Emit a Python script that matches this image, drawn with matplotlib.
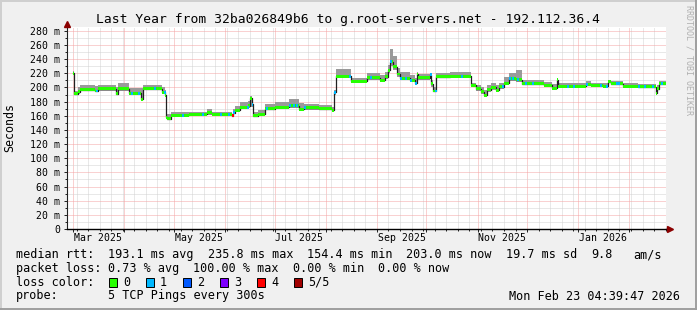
import matplotlib
matplotlib.use('Agg')
import matplotlib.pyplot as plt
import matplotlib.dates as mdates
import matplotlib.transforms as mtransforms
from matplotlib.patches import Rectangle
from matplotlib.lines import Line2D
from matplotlib.ticker import MultipleLocator, FuncFormatter
import numpy as np
import pandas as pd

plt.rcParams['font.family'] = ['DejaVu Sans Mono']

# ---------------- data ----------------
title = "Last Year from 32ba026849b6 to g.root-servers.net - 192.112.36.4"

seg_start = [
    "2025-03-01 00:00", "2025-03-01 14:00", "2025-03-04", "2025-03-05", "2025-03-14",
    "2025-03-16", "2025-03-27", "2025-03-28", "2025-04-04", "2025-04-11",
    "2025-04-12", "2025-04-24", "2025-04-25 12:00", "2025-04-26", "2025-04-27",
    "2025-04-29", "2025-05-10", "2025-05-21", "2025-05-24", "2025-06-05",
    "2025-06-06", "2025-06-07", "2025-06-10", "2025-06-15", "2025-06-16",
    "2025-06-17", "2025-06-18", "2025-06-21", "2025-06-25", "2025-07-01",
    "2025-07-10", "2025-07-16", "2025-07-19", "2025-07-28", "2025-08-05",
    "2025-08-06", "2025-08-07", "2025-08-16", "2025-08-26", "2025-09-03",
    "2025-09-06", "2025-09-08", "2025-09-09", "2025-09-11", "2025-09-13",
    "2025-09-15", "2025-09-21", "2025-09-24", "2025-09-25", "2025-09-26",
    "2025-10-03", "2025-10-04", "2025-10-05", "2025-10-07", "2025-10-15",
    "2025-10-28", "2025-10-31", "2025-11-03", "2025-11-05", "2025-11-07",
    "2025-11-09", "2025-11-12", "2025-11-14", "2025-11-17", "2025-11-20",
    "2025-11-24", "2025-11-28", "2025-12-11", "2025-12-16", "2025-12-19",
    "2025-12-20", "2026-01-06", "2026-01-09", "2026-01-16", "2026-01-19",
    "2026-01-21", "2026-01-28", "2026-02-06", "2026-02-17", "2026-02-18",
    "2026-02-19",
]
median_ms = [
    220, 191, 194, 197, 195,
    198, 191, 198, 192, 183,
    198, 193, 189, 158, 156,
    161, 162, 164, 162, 160,
    164, 168, 172, 174, 185,
    176, 160, 162, 170, 172,
    174, 169, 171, 170, 168,
    193, 216, 209, 214, 210,
    215, 224, 236, 229, 219,
    213, 210, 206, 219, 214,
    218, 205, 195, 215, 216,
    203, 198, 194, 189, 197,
    200, 196, 201, 206, 212,
    211, 205, 203, 199, 211,
    202, 204, 203, 202, 208,
    205, 202, 201, 192, 198,
    205,
]
smoke_lo_ms = [
    217, 189, 191, 195, 193,
    195, 189, 195, 190, 181,
    196, 191, 187, 156, 154,
    159, 160, 161, 160, 159,
    162, 166, 169, 171, 172,
    172, 158, 160, 168, 169,
    171, 167, 168, 168, 166,
    190, 213, 207, 211, 208,
    212, 220, 230, 224, 215,
    210, 208, 203, 215, 211,
    214, 201, 193, 213, 214,
    200, 195, 191, 187, 194,
    197, 193, 198, 203, 209,
    208, 203, 201, 197, 208,
    200, 202, 201, 200, 206,
    203, 200, 199, 190, 196,
    203,
]
smoke_hi_ms = [
    223, 195, 200, 203, 202,
    204, 200, 206, 199, 199,
    204, 200, 196, 164, 162,
    166, 166, 169, 166, 163,
    169, 174, 179, 181, 188,
    183, 165, 168, 177, 180,
    184, 178, 177, 175, 172,
    196, 226, 214, 221, 218,
    222, 232, 254, 244, 228,
    222, 218, 214, 222, 219,
    220, 210, 200, 221, 222,
    207, 203, 200, 197, 203,
    206, 203, 207, 215, 221,
    224, 210, 208, 205, 213,
    206, 209, 207, 206, 211,
    209, 207, 205, 197, 203,
    209,
]
data_end = "2026-02-23 04:00"

loss1_spots = [
    "2025-03-15", "2025-04-05", "2025-04-09", "2025-04-19", "2025-04-25",
    "2025-05-06", "2025-05-18", "2025-05-29", "2025-06-03", "2025-06-06",
    "2025-06-14", "2025-06-17", "2025-06-26", "2025-07-10", "2025-07-12",
    "2025-07-14", "2025-07-19", "2025-08-06", "2025-08-15", "2025-08-28",
    "2025-09-09", "2025-09-15", "2025-09-18", "2025-09-21", "2025-09-24",
    "2025-10-03", "2025-10-06", "2025-10-22", "2025-11-16", "2025-11-20",
    "2025-11-22", "2025-11-25", "2025-11-30", "2025-12-04", "2025-12-25",
    "2025-12-29", "2026-01-06", "2026-01-14", "2026-01-18", "2026-01-24",
    "2026-01-25", "2026-02-06", "2026-02-10", "2026-02-15", "2026-02-20",
]
loss4_spots = ["2025-06-05"]

x_start = "2025-02-24 21:00"
x_end = "2026-02-23 04:39"
month_labels = ["2025-03-16", "2025-05-16", "2025-07-16",
                "2025-09-16", "2025-11-16", "2026-01-16"]

loss_names = ["0", "1", "2", "3", "4", "5/5"]
loss_colors = ["#26ff00", "#00b8ff", "#0059ff", "#7e00ff", "#ff0000", "#a10000"]

row_rtt = ["median rtt:", "193.1 ms avg", "235.8 ms max", "154.4 ms min",
           "203.0 ms now", "19.7 ms sd", "9.8", "am/s"]
row_loss = ["packet loss:", "0.73 % avg", "100.00 % max", "0.00 % min", "0.00 % now"]
row_probe = ["probe:", "5 TCP Pings every 300s"]
stamp = "Mon Feb 23 04:39:47 2026"

# ---------------- figure ----------------
W, H = 697, 310
fig = plt.figure(figsize=(W / 100, H / 100), dpi=100, facecolor='#f0f0f0')


def fx(x):
    return x / W


def fy(y):
    return 1 - y / H


def to_num(strings):
    return mdates.date2num(pd.to_datetime(strings, format='ISO8601'))


ax = fig.add_axes([fx(66.5), fy(229), (666 - 66.5) / W, (229 - 27.3) / H])
ax.set_facecolor('white')

t = to_num(seg_start + [data_end])
med = np.array(median_ms + [median_ms[-1]], float)
lo = np.array(smoke_lo_ms + [smoke_lo_ms[-1]], float)
hi = np.array(smoke_hi_ms + [smoke_hi_ms[-1]], float)

ax.fill_between(t, lo, hi, step='post', color='#9a9a9a', lw=0, zorder=2)
ax.step(t, med, where='post', color='#202020', lw=0.9, zorder=3)
band = 2.1
ax.fill_between(t, med - band, med + band, step='post', color=loss_colors[0],
                lw=0, zorder=4)

spot_w = 1.2
for spots, col in [(loss1_spots, loss_colors[1]), (loss4_spots, loss_colors[4])]:
    for dn in to_num(spots):
        i = np.searchsorted(t, dn, side='right') - 1
        v = med[i]
        ax.fill_between([dn, dn + spot_w], [v - band] * 2, [v + band] * 2,
                        color=col, lw=0, zorder=5)

ax.set_xlim(to_num([x_start])[0], to_num([x_end])[0])
ax.set_ylim(0, 285)

ax.yaxis.set_major_locator(MultipleLocator(20))
ax.yaxis.set_minor_locator(MultipleLocator(10))
ax.yaxis.set_major_formatter(FuncFormatter(lambda v, p: '0' if v == 0 else f'{v:.0f} m'))
ax.xaxis.set_major_locator(mdates.MonthLocator())
ax.xaxis.set_minor_locator(mdates.WeekdayLocator(byweekday=mdates.MO))

ax.set_axisbelow(True)
ax.grid(which='minor', color='#d2d2d2', lw=0.72, linestyle=(0, (1, 1)))
ax.grid(which='major', color='#f4a4a4', lw=0.72, linestyle=(0, (1, 1)))

ax.tick_params(axis='both', which='major', length=2.2, width=0.7, color='#202020',
               direction='out')
ax.tick_params(axis='both', which='minor', length=1.4, width=0.7, color='#202020',
               direction='out')
ax.tick_params(axis='y', labelsize=7.1, pad=2.5, labelcolor='black')
ax.tick_params(axis='x', labelbottom=False)

for s in ['top', 'right']:
    ax.spines[s].set_visible(False)
ax.spines['left'].set_color('#202020')
ax.spines['bottom'].set_color('#000000')
ax.spines['left'].set_linewidth(0.8)
ax.spines['bottom'].set_linewidth(1.0)

# axis arrows
ax.add_line(Line2D([0, 0], [1, 1.02], transform=ax.transAxes, color='#202020',
                   lw=0.8, clip_on=False))
ax.plot([0], [1.017], marker='^', ms=4.5, color='#8b0000', mec='#8b0000',
        transform=ax.transAxes, clip_on=False, zorder=10)
ax.add_line(Line2D([1, 1.005], [0, 0], transform=ax.transAxes, color='#000000',
                   lw=1.0, clip_on=False))
ax.plot([1.0065], [0], marker='>', ms=4.5, color='#8b0000', mec='#8b0000',
        transform=ax.transAxes, clip_on=False, zorder=10)

# month labels
trans = mtransforms.blended_transform_factory(ax.transData, ax.transAxes)
for d, dn in zip(month_labels, to_num(month_labels)):
    ax.text(dn, -0.045, pd.Timestamp(d).strftime('%b %Y'), transform=trans,
            ha='center', va='center', fontsize=7.1)

# title, y label, watermark
fig.text(fx(348.5), fy(19), title, ha='center', va='center', fontsize=9.4)
fig.text(fx(10), fy(128), 'Seconds', rotation=90, ha='center', va='center',
         fontsize=8.4)
fig.text(fx(688.5), fy(5), 'RRDTOOL / TOBI OETIKER', rotation=270, ha='center',
         va='top', fontsize=6, color='#b0b0b0')

# legend rows (monospaced layout: 7.1 px per character, starting at x=16)
FS = 8.5
CW = 7.1
X0 = 16
rows_y = [254.5, 268.2, 282.0, 296.0]


def put_row(pieces, cols, y):
    for s, c in zip(pieces, cols):
        fig.text(fx(X0 + c * CW), fy(y), s, ha='left', va='center', fontsize=FS)


put_row(row_rtt, [0, 13, 27, 41, 55, 69, 81, 87], rows_y[0])
put_row(row_loss, [0, 13, 25, 39, 51], rows_y[1])

fig.text(fx(X0), fy(rows_y[2]), 'loss color:', ha='left', va='center', fontsize=FS)
for k, (name, col) in enumerate(zip(loss_names, loss_colors)):
    bx = 108.5 + k * 37
    fig.add_artist(Rectangle((fx(bx), fy(rows_y[2] + 4.5)), 8 / W, 9 / H,
                             facecolor=col, edgecolor='black', lw=0.7,
                             transform=fig.transFigure))
    fig.text(fx(bx + 14.5), fy(rows_y[2]), name, ha='left', va='center', fontsize=FS)

put_row(row_probe, [0, 13], rows_y[3])
fig.text(fx(680), fy(rows_y[3]), stamp, ha='right', va='center', fontsize=FS)

# bevel border
fig.add_artist(Line2D([0, 1], [fy(0.7), fy(0.7)], color='#cfcfcf', lw=1.4,
                      transform=fig.transFigure))
fig.add_artist(Line2D([fx(0.7), fx(0.7)], [0, 1], color='#cfcfcf', lw=1.4,
                      transform=fig.transFigure))
fig.add_artist(Line2D([0, 1], [fy(H - 0.7), fy(H - 0.7)], color='#9e9e9e', lw=1.4,
                      transform=fig.transFigure))
fig.add_artist(Line2D([fx(W - 0.7), fx(W - 0.7)], [0, 1], color='#9e9e9e', lw=1.4,
                      transform=fig.transFigure))

fig.savefig('out.png', dpi=100, facecolor=fig.get_facecolor())
